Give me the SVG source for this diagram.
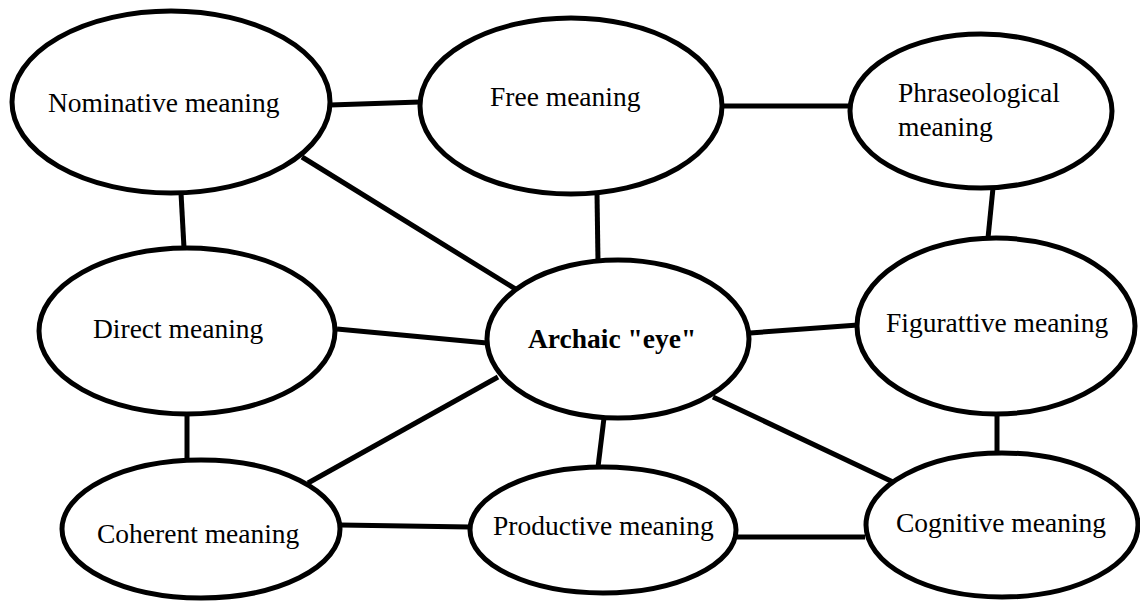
<svg xmlns="http://www.w3.org/2000/svg" width="1140" height="601" viewBox="0 0 1140 601">
<style>
.n{fill:#fff;stroke:#000;stroke-width:5}
.e line{stroke:#000;stroke-width:5}
text{font-family:"Liberation Serif","Times New Roman",serif;font-size:27.5px;fill:#000}
.b{font-weight:bold}
</style>
<rect width="1140" height="601" fill="#fff"/>
<g class="e" id="connectors">
<line x1="330" y1="105" x2="420" y2="102"/>
<line x1="722" y1="106" x2="850" y2="106"/>
<line x1="181" y1="193" x2="184" y2="248"/>
<line x1="302" y1="157" x2="517" y2="290"/>
<line x1="597" y1="193" x2="598" y2="262"/>
<line x1="993" y1="188" x2="988" y2="238"/>
<line x1="337" y1="329" x2="487" y2="343"/>
<line x1="750" y1="333" x2="858" y2="325"/>
<line x1="187" y1="413" x2="187" y2="460"/>
<line x1="308" y1="483" x2="498" y2="377"/>
<line x1="604" y1="418" x2="598" y2="467"/>
<line x1="713" y1="397" x2="893" y2="482"/>
<line x1="997" y1="413" x2="997" y2="454"/>
<line x1="340" y1="525" x2="470" y2="527"/>
<line x1="735" y1="537" x2="865" y2="537"/>
</g>
<g id="nominative"><ellipse class="n" cx="171" cy="102" rx="159" ry="91"/><text x="48" y="112">Nominative meaning</text></g>
<g id="free"><ellipse class="n" cx="571" cy="106" rx="151" ry="88"/><text x="490" y="106">Free meaning</text></g>
<g id="phraseological"><ellipse class="n" cx="981" cy="111" rx="131" ry="77"/><text x="898" y="102">Phraseological</text><text x="898" y="136">meaning</text></g>
<g id="direct"><ellipse class="n" cx="187" cy="331" rx="148" ry="83"/><text x="93" y="338">Direct meaning</text></g>
<g id="archaic"><ellipse class="n" cx="618" cy="339" rx="131" ry="79"/><text class="b" x="528" y="348">Archaic "eye"</text></g>
<g id="figurative"><ellipse class="n" cx="996" cy="326" rx="139" ry="88"/><text x="886" y="332">Figurattive meaning</text></g>
<g id="coherent"><ellipse class="n" cx="201" cy="529" rx="139" ry="69"/><text x="97" y="543">Coherent meaning</text></g>
<g id="productive"><ellipse class="n" cx="603" cy="530" rx="133" ry="63"/><text x="493" y="535">Productive meaning</text></g>
<g id="cognitive"><ellipse class="n" cx="1002" cy="525" rx="136" ry="72"/><text x="896" y="532">Cognitive meaning</text></g>
</svg>
